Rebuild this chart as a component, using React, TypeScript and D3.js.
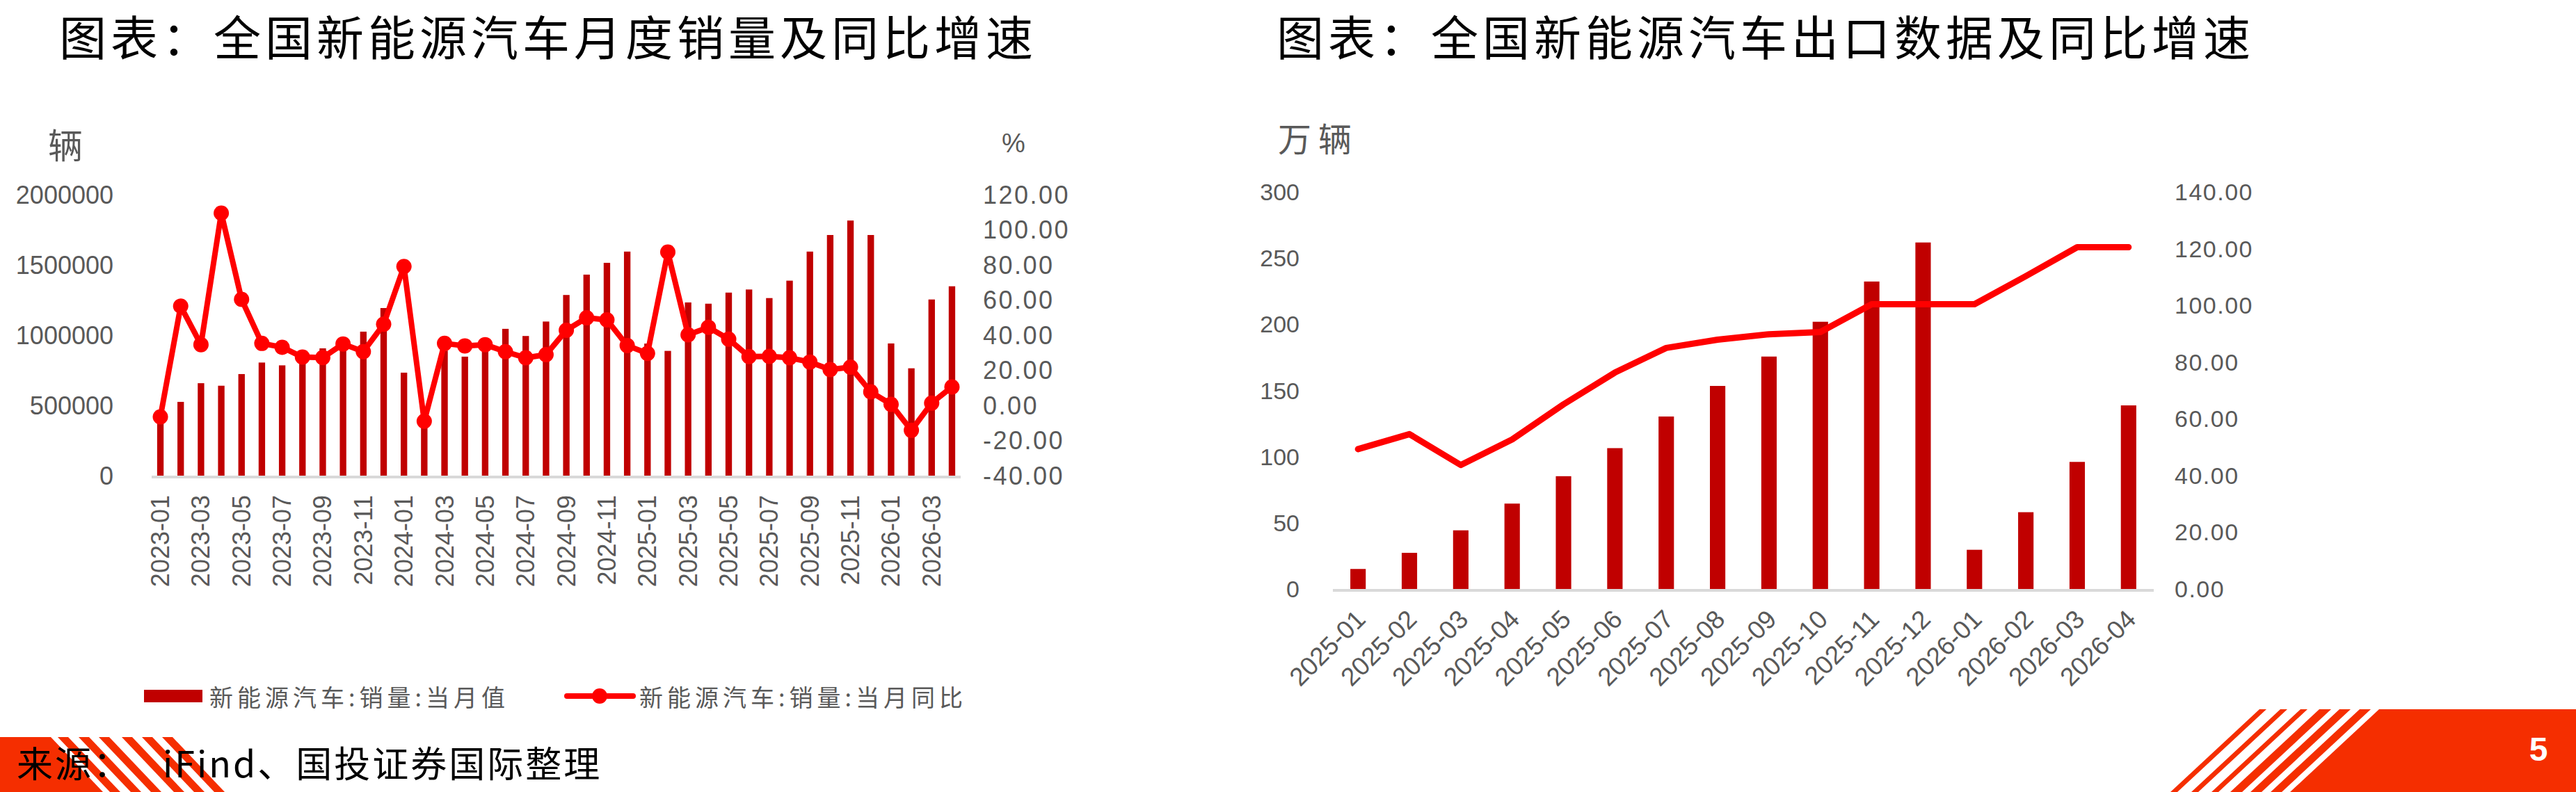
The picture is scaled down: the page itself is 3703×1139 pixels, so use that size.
import React from 'react';
import * as d3 from 'd3';

const W = 3703;
const H = 1139;

// 全国新能源汽车月度销量（辆）及同比（%）
const salesMonths = [
  '2023-01', '2023-02', '2023-03', '2023-04', '2023-05', '2023-06', '2023-07', '2023-08', '2023-09', '2023-10', '2023-11', '2023-12',
  '2024-01', '2024-02', '2024-03', '2024-04', '2024-05', '2024-06', '2024-07', '2024-08', '2024-09', '2024-10', '2024-11', '2024-12',
  '2025-01', '2025-02', '2025-03', '2025-04', '2025-05', '2025-06', '2025-07', '2025-08', '2025-09', '2025-10', '2025-11', '2025-12',
  '2026-01', '2026-02', '2026-03', '2026-04',
];
const salesVolume = [
  410000, 525000, 658000, 640000, 723000, 805000, 785000, 840000, 906000, 950000, 1025000, 1193000,
  733000, 400000, 890000, 847000, 950000, 1045000, 994000, 1097000, 1286000, 1431000, 1515000, 1595000,
  940000, 888000, 1233000, 1224000, 1303000, 1325000, 1264000, 1388000, 1595000, 1713000, 1816000, 1713000,
  941000, 764000, 1254000, 1348000,
];
const salesYoY = [
  -6.5, 56.5, 34.6, 109.5, 60.4, 35.3, 33.1, 27.5, 27.2, 35.0, 30.6, 46.2,
  79.1, -9.0, 35.3, 33.9, 34.6, 30.6, 27.1, 28.9, 42.8, 49.9, 48.7, 34.1,
  29.6, 87.3, 40.2, 44.5, 37.7, 27.8, 27.9, 27.1, 24.7, 20.4, 21.8, 7.7,
  0.6, -14.2, 1.3, 10.5,
];
const salesLeftTicks = [0, 500000, 1000000, 1500000, 2000000];
const salesRightTicks = [-40, -20, 0, 20, 40, 60, 80, 100, 120];

// 全国新能源汽车出口（万辆）及同比
const exportMonths = [
  '2025-01', '2025-02', '2025-03', '2025-04', '2025-05', '2025-06', '2025-07', '2025-08',
  '2025-09', '2025-10', '2025-11', '2025-12', '2026-01', '2026-02', '2026-03', '2026-04',
];
const exportVolume = [15.1, 27.3, 44.3, 64.5, 85.2, 106.4, 130.3, 153.4, 175.6, 201.9, 232.3, 261.8, 29.6, 58.0, 96.0, 138.7];
const exportYoY = [49.3, 54.6, 43.7, 52.7, 65.1, 76.3, 85.0, 87.9, 89.8, 90.6, 100.4, 100.4, 100.4, 110.3, 120.5, 120.5];
const exportLeftTicks = [0, 50, 100, 150, 200, 250, 300];
const exportRightTicks = [0, 20, 40, 60, 80, 100, 120, 140];

const BAR = '#C00000';
const LINE = '#FF0000';
const GREY = '#595959';
const AXIS = '#D9D9D9';
const BAND = '#F52E00';
const NUM_FONT = "'Liberation Sans', Arial, sans-serif";
const CJK_FONT = "'Noto Sans CJK SC', 'Noto Sans', sans-serif";

const SalesChart = () => {
  const x = d3.scaleBand<string>().domain(salesMonths).range([218, 1381]).paddingInner(0.68).paddingOuter(0.27);
  const yL = d3.scaleLinear().domain([0, 2000000]).range([684, 280]);
  const yR = d3.scaleLinear().domain([-40, 120]).range([684, 280]);
  const cx = (m: string) => (x(m) as number) + x.bandwidth() / 2;
  const line = d3.line<number>().x((_, i) => cx(salesMonths[i])).y((d) => yR(d));

  return (
    <g>
      <text x={94} y={206} fontSize={50} fill={GREY} fontFamily={CJK_FONT} textAnchor="middle" dominantBaseline="central">辆</text>
      <text x={1457} y={206} fontSize={38} fill={GREY} fontFamily={NUM_FONT} textAnchor="middle" dominantBaseline="central">%</text>

      {salesLeftTicks.map((t) => (
        <text key={'l' + t} x={163} y={yL(t)} fontSize={36} fill={GREY} fontFamily={NUM_FONT} textAnchor="end" dominantBaseline="central">{t}</text>
      ))}
      {salesRightTicks.map((t) => (
        <text key={'r' + t} x={1413} y={yR(t)} fontSize={36} fill={GREY} fontFamily={NUM_FONT} letterSpacing={2.5} dominantBaseline="central">{t.toFixed(2)}</text>
      ))}

      {salesMonths.map((m, i) => (
        <rect key={m} x={x(m)} y={yL(salesVolume[i])} width={x.bandwidth()} height={yL(0) - yL(salesVolume[i])} fill={BAR} />
      ))}
      <line x1={218} x2={1381} y1={yL(0) + 2} y2={yL(0) + 2} stroke={AXIS} strokeWidth={4} />

      <path d={line(salesYoY) || ''} fill="none" stroke={LINE} strokeWidth={8} strokeLinejoin="round" />
      {salesYoY.map((v, i) => (
        <circle key={i} cx={cx(salesMonths[i])} cy={yR(v)} r={11} fill={LINE} />
      ))}

      {salesMonths.filter((_, i) => i % 2 === 0).map((m) => (
        <text key={'x' + m} transform={`translate(${cx(m)},712) rotate(-90)`} fontSize={36} fill={GREY} fontFamily={NUM_FONT} textAnchor="end" dominantBaseline="central">{m}</text>
      ))}

      {/* legend */}
      <rect x={207} y={992} width={84} height={18} fill={BAR} />
      <text x={301} y={1001} fontSize={34} letterSpacing={6} fill={GREY} fontFamily={CJK_FONT} dominantBaseline="central">新能源汽车:销量:当月值</text>
      <line x1={815} x2={910} y1={1001} y2={1001} stroke={LINE} strokeWidth={8} strokeLinecap="round" />
      <circle cx={862} cy={1001} r={11} fill={LINE} />
      <text x={919} y={1001} fontSize={34} letterSpacing={6} fill={GREY} fontFamily={CJK_FONT} dominantBaseline="central">新能源汽车:销量:当月同比</text>
    </g>
  );
};

const ExportChart = () => {
  const x = d3.scaleBand<string>().domain(exportMonths).range([1916, 3096]).paddingInner(0.7).paddingOuter(0.34);
  const yL = d3.scaleLinear().domain([0, 300]).range([847, 276]);
  const yR = d3.scaleLinear().domain([0, 140]).range([847, 276]);
  const cx = (m: string) => (x(m) as number) + x.bandwidth() / 2;
  const line = d3.line<number>().x((_, i) => cx(exportMonths[i])).y((d) => yR(d));

  return (
    <g>
      <text x={1837} y={197} fontSize={48} letterSpacing={10} fill={GREY} fontFamily={CJK_FONT} dominantBaseline="central">万辆</text>

      {exportLeftTicks.map((t) => (
        <text key={'l' + t} x={1868} y={yL(t)} fontSize={34} fill={GREY} fontFamily={NUM_FONT} textAnchor="end" dominantBaseline="central">{t}</text>
      ))}
      {exportRightTicks.map((t) => (
        <text key={'r' + t} x={3126} y={yR(t)} fontSize={34} fill={GREY} fontFamily={NUM_FONT} letterSpacing={1.5} dominantBaseline="central">{t.toFixed(2)}</text>
      ))}

      {exportMonths.map((m, i) => (
        <rect key={m} x={x(m)} y={yL(exportVolume[i])} width={x.bandwidth()} height={yL(0) - yL(exportVolume[i])} fill={BAR} />
      ))}
      <line x1={1916} x2={3096} y1={yL(0) + 2} y2={yL(0) + 2} stroke={AXIS} strokeWidth={4} />

      <path d={line(exportYoY) || ''} fill="none" stroke={LINE} strokeWidth={9} strokeLinejoin="round" strokeLinecap="round" />

      {exportMonths.map((m) => (
        <text key={'x' + m} transform={`translate(${cx(m) + 4},884) rotate(-45)`} fontSize={37} fill={GREY} fontFamily={NUM_FONT} textAnchor="end" dominantBaseline="central">{m}</text>
      ))}
    </g>
  );
};

// decorative striped footer bands
const leftStripes = [83, 113, 142, 175, 204, 233];
const rightStripes = [[3248, 3258], [3278, 3288], [3307, 3317], [3334, 3351], [3363, 3379], [3392, 3408]];

const Footer = () => (
  <g>
    <polygon points="0,1060 73,1060 148,1139 0,1139" fill={BAND} />
    {leftStripes.map((s) => (
      <polygon key={s} points={`${s},1060 ${s + 15},1060 ${s + 90},1139 ${s + 75},1139`} fill={BAND} />
    ))}
    <text y={1118} fontSize={52} fill="#000" fontFamily={CJK_FONT} letterSpacing={3}>
      <tspan x={24}>来源：</tspan>
      <tspan x={234}>iFind、国投证券国际整理</tspan>
    </text>

    <polygon points="3420,1020 3703,1020 3703,1139 3292,1139" fill={BAND} />
    {rightStripes.map(([a, b]) => (
      <polygon key={a} points={`${a},1020 ${b},1020 ${b - 128},1139 ${a - 128},1139`} fill={BAND} />
    ))}
    <text x={3649} y={1077} fontSize={48} fontWeight="bold" fill="#fff" fontFamily={NUM_FONT} textAnchor="middle" dominantBaseline="central">5</text>
  </g>
);

const App = () => (
  <div style={{ position: 'absolute', left: 0, top: 0 }}>
    <svg width={W} height={H} style={{ display: 'block', background: '#fff' }}>
      <text x={85} y={80} fontSize={68} letterSpacing={6} fill="#000" fontFamily={CJK_FONT}>图表：全国新能源汽车月度销量及同比增速</text>
      <text x={1835} y={80} fontSize={68} letterSpacing={6} fill="#000" fontFamily={CJK_FONT}>图表：全国新能源汽车出口数据及同比增速</text>
      <SalesChart />
      <ExportChart />
      <Footer />
    </svg>
  </div>
);

export default App;
